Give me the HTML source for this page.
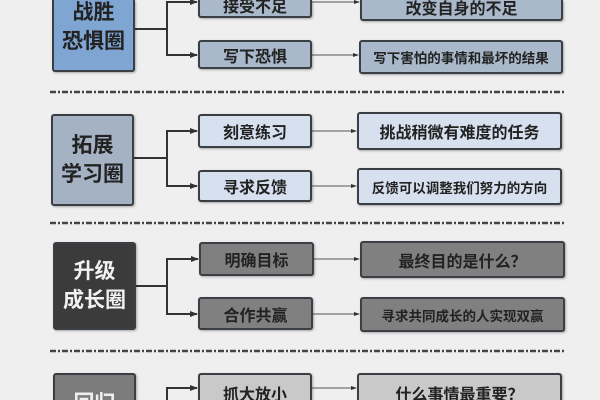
<!DOCTYPE html>
<html style="margin:0;width:600px;height:400px;overflow:hidden"><head><meta charset="utf-8"><style>
html,body{margin:0;padding:0;width:600px;height:400px;overflow:hidden;background:#efefef}
#w{position:relative;width:600px;height:400px;overflow:hidden;font-family:"Liberation Sans","Noto Sans CJK SC",sans-serif;background:#efefef}
.b{position:absolute;box-sizing:border-box;border:2px solid #3a3f46;border-radius:3px;display:flex;align-items:center;justify-content:center;text-align:center;color:#222;box-shadow:1px 1px 2px rgba(0,0,0,.3);font-weight:bold;overflow:hidden}
.L{font-size:21px;line-height:29px}
.M{font-size:16px}
.R{font-size:16px}
.s{font-size:13.5px}
svg{position:absolute;left:0;top:0}
</style></head><body><div id="w">
<svg width="600" height="400">
<defs><marker id="a" markerUnits="userSpaceOnUse" markerWidth="8" markerHeight="8" refX="7" refY="4" orient="auto"><path d="M0,1L8,4L0,7z" fill="#333"/></marker>
<marker id="c" markerUnits="userSpaceOnUse" markerWidth="6" markerHeight="6" refX="5" refY="3" orient="auto"><path d="M0,1L6,3L0,5z" fill="#333"/></marker></defs>
<g stroke="#333" stroke-width="2" fill="none">
<path d="M135 29H167V2H197" marker-end="url(#a)"/>
<path d="M167 29V55H197" marker-end="url(#a)"/>
<path d="M134 158H167V131H197" marker-end="url(#a)"/>
<path d="M167 158V186H197" marker-end="url(#a)"/>
<path d="M136 286H167V259H198" marker-end="url(#a)"/>
<path d="M167 286V314H197" marker-end="url(#a)"/>
<path d="M167 400V388H197" marker-end="url(#a)"/>
</g>
<g stroke="#555" stroke-width="1" marker-end="url(#c)">
<line x1="312" y1="2" x2="359" y2="2"/><line x1="312" y1="55" x2="358" y2="55"/>
<line x1="312" y1="131" x2="356" y2="131"/><line x1="312" y1="186" x2="356" y2="186"/>
<line x1="314" y1="259" x2="359" y2="259"/><line x1="313" y1="314" x2="359" y2="314"/>
<line x1="312" y1="388" x2="356" y2="388"/>
</g>
<g stroke="#444" stroke-width="2.5" stroke-dasharray="6 2 2 2">
<line x1="50" y1="92" x2="565" y2="92"/><line x1="50" y1="223" x2="566" y2="223"/><line x1="50" y1="351" x2="566" y2="351"/>
</g>
</svg>
<div class="b L" style="left:52px;top:0;width:83px;height:72px;border-top:none;border-radius:0 0 3px 3px;background:#7fa6d2;padding-bottom:14px;align-items:flex-end">战胜<br>恐惧圈</div>
<div class="b M" style="left:198px;top:0;width:114px;height:18px;border-top:none;border-radius:0 0 3px 3px;background:#a9b9cb;align-items:flex-end;line-height:16px">接受不足</div>
<div class="b R" style="left:360px;top:0;width:203px;height:21px;border-top:none;border-radius:0 0 3px 3px;background:#a9b9cb;align-items:flex-end;line-height:18px">改变自身的不足</div>
<div class="b M" style="left:198px;top:40px;width:114px;height:29px;background:#a9b9cb">写下恐惧</div>
<div class="b s" style="left:359px;top:40px;width:204px;height:34px;background:#a9b9cb">写下害怕的事情和最坏的结果</div>

<div class="b L" style="left:51px;top:114px;width:83px;height:92px;background:#a4b2c4">拓展<br>学习圈</div>
<div class="b M" style="left:198px;top:114px;width:114px;height:34px;background:#d6e0ee">刻意练习</div>
<div class="b R" style="left:357px;top:112px;width:205px;height:38px;background:#d6e0ee">挑战稍微有难度的任务</div>
<div class="b M" style="left:198px;top:170px;width:114px;height:32px;background:#d6e0ee">寻求反馈</div>
<div class="b s" style="left:357px;top:168px;width:205px;height:37px;background:#d6e0ee">反馈可以调整我们努力的方向</div>

<div class="b L" style="left:53px;top:242px;width:83px;height:88px;background:#3b3b3b;color:#f2f2f2">升级<br>成长圈</div>
<div class="b M" style="left:199px;top:242px;width:115px;height:34px;background:#808080">明确目标</div>
<div class="b R" style="left:360px;top:241px;width:205px;height:37px;background:#808080">最终目的是什么？</div>
<div class="b M" style="left:198px;top:297px;width:115px;height:33px;background:#808080">合作共赢</div>
<div class="b s" style="left:360px;top:297px;width:205px;height:35px;background:#808080">寻求共同成长的人实现双赢</div>

<div class="b L" style="left:53px;top:373px;width:83px;height:27px;border-bottom:none;border-radius:3px 3px 0 0;background:#7b7b7b;color:#eee;align-items:flex-start;padding-top:14px">回归</div>
<div class="b M" style="left:198px;top:373px;width:114px;height:27px;border-bottom:none;border-radius:3px 3px 0 0;background:#c9c9c9;align-items:flex-start;padding-top:6px">抓大放小</div>
<div class="b R" style="left:357px;top:373px;width:205px;height:27px;border-bottom:none;border-radius:3px 3px 0 0;background:#c9c9c9;align-items:flex-start;padding-top:6px">什么事情最重要？</div>
</div></body></html>
